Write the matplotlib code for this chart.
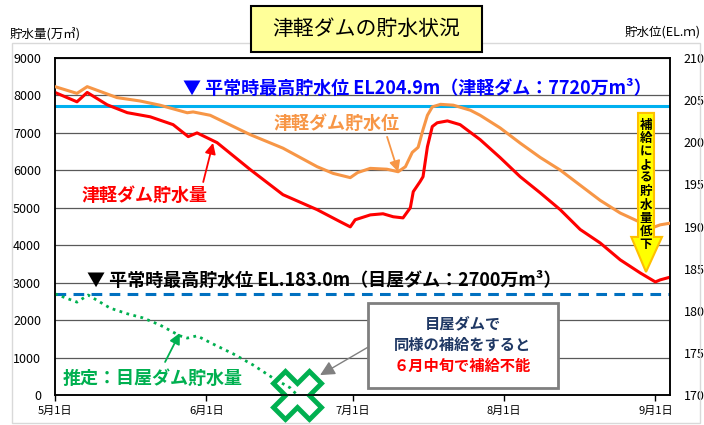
import matplotlib

matplotlib.use("Agg")
from matplotlib import pyplot as plt
from matplotlib.patches import Polygon, Rectangle

plt.rcParams["font.family"] = ["Noto Sans CJK JP", "DejaVu Sans"]

# x values are days counted from 5月1日
X_TICKS = [0, 31, 61, 92, 123]
X_TICK_LABELS = ["5月1日", "6月1日", "7月1日", "8月1日", "9月1日"]

# 津軽ダム貯水量 (万m3)
STORAGE_DAYS = [0, 4.5, 6.6, 10.7, 14.8, 19.5, 24.2, 27.3, 29.1, 33.2, 40, 46.7, 53.7,
                58.4, 60.5, 61.5, 64.6, 67.2, 69.3, 71.3, 72.8, 73.4, 74.8, 75.4, 76.3,
                77.3, 78.3, 80.4, 83, 87.1, 91.2, 95.3, 99.4, 103.5, 107.6, 111.7, 115.8,
                119.9, 123, 124, 126.1]
STORAGE = [8080, 7830, 8080, 7750, 7540, 7430, 7220, 6900, 7000, 6740, 6020, 5350, 4950,
           4630, 4490, 4680, 4810, 4840, 4760, 4730, 5000, 5430, 5700, 5830, 6630,
           7170, 7270, 7320, 7220, 6820, 6340, 5830, 5400, 4950, 4420, 4060, 3610,
           3260, 3020, 3075, 3150]

# 津軽ダム貯水位 (EL.m)
LEVEL_DAYS = [0, 4.5, 6.6, 12.7, 17.4, 21.5, 27.1, 28.3, 31.8, 40, 46.7, 53.7, 57,
              60.5, 62, 64.6, 68, 70.3, 71.8, 73.2, 74.4, 75.4, 76.3, 77.3, 79, 81.6,
              85.1, 87.1, 91.2, 95.3, 99.4, 103.5, 107.6, 111.7, 115.8, 119.9, 122.6,
              124, 126.1]
LEVEL = [206.6, 205.8, 206.6, 205.3, 204.9, 204.4, 203.5, 203.6, 203.2, 200.9, 199.3,
         197.1, 196.3, 195.8, 196.4, 196.9, 196.8, 196.5, 197.1, 198.8, 199.4, 201.5,
         203.2, 204.2, 204.5, 204.4, 203.8, 203.2, 201.7, 199.9, 198.2, 196.7, 194.9,
         193.1, 191.6, 190.5, 189.9, 190.2, 190.4]

# 推定：目屋ダム貯水量 (万m3)
MEYA_DAYS = [0, 4.5, 6.8, 11.3, 14.8, 18, 21.5, 25.6, 27.1, 29.1, 32.4, 36.5, 40.6,
             44.7, 48.2, 49.6]
MEYA_STORAGE = [2700, 2480, 2670, 2320, 2170, 2060, 1870, 1580, 1520, 1580, 1360, 1100,
                800, 450, 190, 0]

TSUGARU_CAPACITY = 7720
MEYA_CAPACITY = 2700

RED = "#FF0000"
ORANGE = "#F79646"
GREEN = "#00B050"


def arrow(ax, tail, head, color, lw=1.3, scale=16):
    ax.annotate("", xy=head, xytext=tail, xycoords="axes fraction", textcoords="axes fraction",
                arrowprops=dict(arrowstyle="-|>", color=color, lw=lw, mutation_scale=scale,
                                shrinkA=0, shrinkB=0), zorder=7)


fig = plt.figure(figsize=(7.04, 4.25), dpi=100)
fig.patches.append(Rectangle((12 / 704, 2 / 425), 688 / 704, 380 / 425, transform=fig.transFigure,
                             fill=False, edgecolor="#D9D9D9", lw=1))

ax = fig.add_axes([55 / 704, 30 / 425, 615 / 704, 337 / 425])
ax2 = ax.twinx()

ax.set_xlim(0, 126)
ax.set_ylim(0, 9000)
ax2.set_ylim(170, 210)
ax.set_yticks(range(0, 9001, 1000))
ax2.set_yticks(range(170, 211, 5))
ax.set_xticks(X_TICKS, X_TICK_LABELS)
ax.grid(axis="y", color="#595959", lw=0.9)
ax.set_axisbelow(True)
ax.tick_params(axis="y", length=0, pad=10, labelsize=9)
ax2.tick_params(axis="y", length=0, pad=10, labelsize=9)
ax.tick_params(axis="x", length=4, width=1, pad=4, labelsize=8)
for spine in list(ax.spines.values()) + list(ax2.spines.values()):
    spine.set_color("black")
    spine.set_linewidth(1.1)

ax.axhline(TSUGARU_CAPACITY, color="#00B0F0", lw=2.2, zorder=2)
ax.axhline(MEYA_CAPACITY, color="#0070C0", lw=2.2, dashes=(3.5, 2.4), zorder=2)
ax.plot(STORAGE_DAYS, STORAGE, color=RED, lw=2.2, zorder=3)
ax.plot(MEYA_DAYS, MEYA_STORAGE, color=GREEN, lw=2, linestyle=(0, (1, 1.6)), zorder=3)
ax.plot(MEYA_DAYS[-1], MEYA_STORAGE[-1], marker="X", ms=34, mfc="none", mec=GREEN,
        mew=3.5, clip_on=False, zorder=6)
ax2.plot(LEVEL_DAYS, LEVEL, color=ORANGE, lw=2.2, zorder=3)

# text labels
ax.text(0.589, 0.911, "▼ 平常時最高貯水位 EL204.9m（津軽ダム：7720万m³）", transform=ax.transAxes,
        ha="center", va="center", fontsize=13, fontweight="bold", color="#0000FF")
ax.text(0.437, 0.341, "▼ 平常時最高貯水位 EL.183.0m（目屋ダム：2700万m³）", transform=ax.transAxes,
        ha="center", va="center", fontsize=13, fontweight="bold", color="black")
ax.text(0.457, 0.807, "津軽ダム貯水位", transform=ax.transAxes, ha="center", va="center",
        fontsize=13, fontweight="bold", color=ORANGE)
ax.text(0.146, 0.593, "津軽ダム貯水量", transform=ax.transAxes, ha="center", va="center",
        fontsize=13, fontweight="bold", color=RED)
ax.text(0.159, 0.050, "推定：目屋ダム貯水量", transform=ax.transAxes, ha="center", va="center",
        fontsize=13, fontweight="bold", color=GREEN)
arrow(ax, (0.540, 0.766), (0.558, 0.662), ORANGE)
arrow(ax, (0.241, 0.632), (0.257, 0.748), RED)
arrow(ax, (0.179, 0.098), (0.203, 0.184), GREEN)

# callout box
ax.add_patch(Rectangle((0.509, 0.021), 0.309, 0.252, transform=ax.transAxes, facecolor="white",
                       edgecolor="#7F7F7F", lw=2, zorder=5))
for y, line, color in [(0.214, "目屋ダムで", "#1F3864"), (0.148, "同様の補給をすると", "#1F3864"),
                       (0.086, "６月中旬で補給不能", RED)]:
    ax.text(0.663, y, line, transform=ax.transAxes, ha="center", va="center", fontsize=11,
            fontweight="bold", color=color, zorder=6)
arrow(ax, (0.509, 0.142), (0.431, 0.059), "#808080", lw=1, scale=22)

# yellow down arrow
ax2.add_patch(Polygon([(0.948, 0.837), (0.974, 0.837), (0.974, 0.469), (0.987, 0.469),
                       (0.961, 0.365), (0.937, 0.469), (0.948, 0.469)], closed=True,
                      transform=ax.transAxes, facecolor="#FFFF00", edgecolor="#FFC000",
                      lw=1.5, zorder=5))
ax2.text(0.961, 0.623, "\n".join("補給による貯水量低下"), transform=ax.transAxes, ha="center",
         va="center", fontsize=9, fontweight="bold", linespacing=1.03, zorder=6)

# titles
fig.patches.append(Rectangle((251 / 704, 1 - 52 / 425), 231 / 704, 46 / 425,
                             transform=fig.transFigure, facecolor="#FFFF99",
                             edgecolor="black", lw=1.5))
fig.text(366.5 / 704, 1 - 29 / 425, "津軽ダムの貯水状況", ha="center", va="center", fontsize=15)
fig.text(10 / 704, 1 - 35 / 425, "貯水量(万㎥)", ha="left", va="center", fontsize=9)
fig.text(625 / 704, 1 - 32 / 425, "貯水位(EL.ｍ)", ha="left", va="center", fontsize=9)

fig.savefig("out.png", dpi=100)
